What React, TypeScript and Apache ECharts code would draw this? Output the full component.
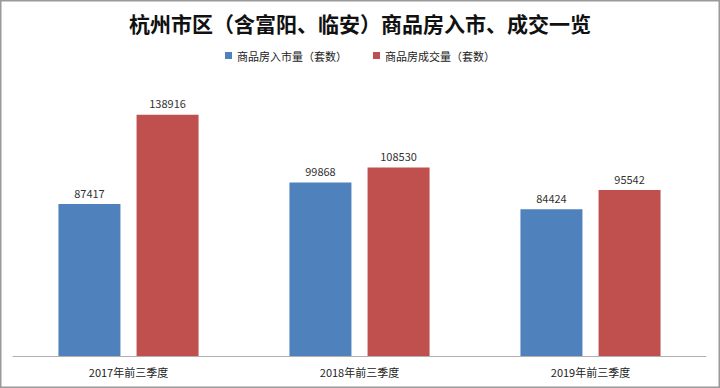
import React, { useEffect, useRef } from "react";
import * as echarts from "echarts";

const categories = ["2017年前三季度", "2018年前三季度", "2019年前三季度"];
const supplyValues = [87417, 99868, 84424];
const dealValues = [138916, 108530, 95542];
const seriesNames = ["商品房入市量（套数）", "商品房成交量（套数）"];
const titleText = "杭州市区（含富阳、临安）商品房入市、成交一览";

export default function App() {
  const ref = useRef<HTMLDivElement>(null);
  useEffect(() => {
    document.body.style.margin = "0";
    const chart = echarts.init(ref.current!, null, { renderer: "svg" });
    const font = "'Noto Sans CJK SC', 'Noto Sans', sans-serif";
    chart.setOption({
      animation: false,
      backgroundColor: "#ffffff",
      textStyle: { fontFamily: font },
      title: {
        text: titleText,
        left: "center",
        top: 7,
        textStyle: { fontSize: 21, fontWeight: "bold", color: "#111", fontFamily: font },
      },
      legend: {
        top: 45,
        left: "center",
        itemWidth: 7,
        itemHeight: 7,
        itemGap: 26,
        icon: "rect",
        textStyle: { fontSize: 11, color: "#222", fontFamily: font },
        data: seriesNames,
      },
      grid: { left: 13, right: 14, top: 78, bottom: 32, containLabel: false },
      xAxis: {
        type: "category",
        data: categories,
        axisLine: { lineStyle: { color: "#b0b0b0", width: 1 } },
        axisTick: { show: false },
        axisLabel: { fontSize: 11, color: "#222", margin: 10, fontFamily: font },
      },
      yAxis: {
        type: "value",
        min: 0,
        max: 160000,
        interval: 20000,
        show: false,
        splitLine: { show: false },
      },
      series: [
        {
          name: seriesNames[0],
          type: "bar",
          data: supplyValues,
          barWidth: 62,
          barGap: "26%",
          itemStyle: { color: "#4F81BD" },
          label: { show: true, position: "top", distance: 6, fontSize: 11, color: "#333", fontFamily: font },
        },
        {
          name: seriesNames[1],
          type: "bar",
          data: dealValues,
          barWidth: 62,
          barGap: "26%",
          itemStyle: { color: "#C0504D" },
          label: { show: true, position: "top", distance: 6, fontSize: 11, color: "#333", fontFamily: font },
        },
      ],
      graphic: [
        {
          type: "rect",
          shape: { x: 0.75, y: 0.75, width: 718.5, height: 386.5 },
          style: { fill: "none", stroke: "#9a9a9a", lineWidth: 1.5 },
          silent: true,
        },
      ],
    });
    return () => chart.dispose();
  }, []);
  return <div ref={ref} style={{ width: 720, height: 388, position: "absolute", left: 0, top: 0 }} />;
}
